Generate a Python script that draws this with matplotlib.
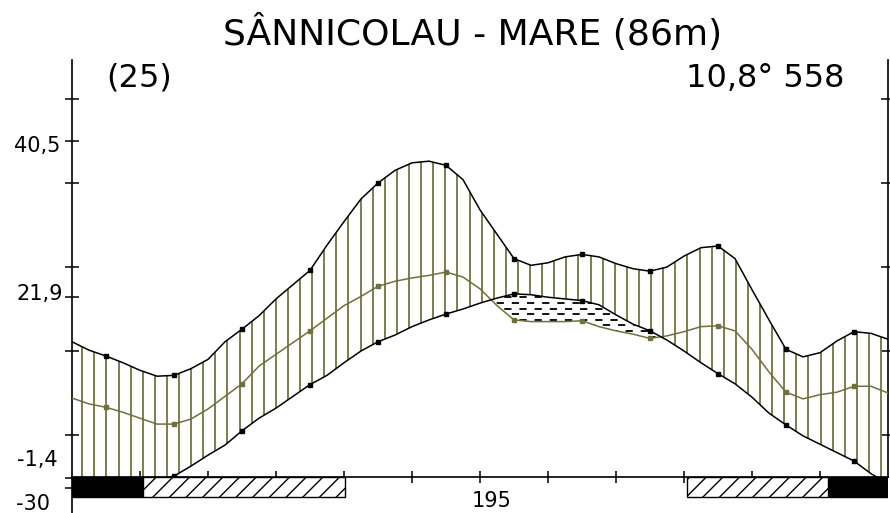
import numpy as np
import matplotlib.pyplot as plt
from matplotlib.patches import Rectangle

# Station info
station = 'SÂNNICOLAU - MARE (86m)'
years_label = '(25)'
mean_temp_label = '10,8°'
annual_precip_label = '558'
frost_free_days = '195'
extreme_labels = ['40,5', '21,9', '-1,4', '-30']

# Curves sampled every quarter month (0 = 1 Jan, 12 = 31 Dec), diagram units
month_pos = np.linspace(0, 12, 49)
precip_upper = [16.1, 15.1, 14.4, 13.6, 12.7, 12.0, 12.1, 12.9, 14.0, 16.1,
                17.6, 19.2, 21.2, 22.9, 24.6, 27.6, 30.4, 33.1, 35.0, 36.5,
                37.4, 37.6, 37.1, 35.4, 31.8, 28.9, 26.0, 25.2, 25.5, 26.2,
                26.5, 26.2, 25.4, 24.8, 24.5, 25.0, 26.3, 27.3, 27.5, 26.0,
                22.3, 18.7, 15.2, 14.3, 14.8, 16.2, 17.3, 17.1, 16.4]
precip_lower = [9.4, 8.7, 8.3, 7.7, 7.0, 6.3, 6.3, 6.9, 8.1, 9.6,
                11.1, 13.2, 14.6, 16.0, 17.4, 18.9, 20.4, 21.5, 22.7, 23.3,
                23.7, 24.0, 24.4, 23.8, 22.4, 20.4, 18.7, 18.5, 18.5, 18.5,
                18.6, 17.9, 17.4, 17.0, 16.5, 16.8, 17.3, 17.9, 18.0, 17.4,
                15.2, 12.5, 10.1, 9.3, 9.8, 10.1, 10.8, 10.8, 10.0]
temperature = [-2.1, -2.0, -1.9, -1.5, -1.1, -0.5, 0.1, 1.3, 2.6, 3.8,
               5.5, 7.0, 8.2, 9.6, 11.0, 12.1, 13.6, 15.0, 16.1, 16.9,
               17.9, 18.7, 19.4, 20.0, 20.7, 21.3, 21.8, 21.7, 21.4, 21.2,
               21.0, 20.5, 19.3, 18.2, 17.4, 16.3, 15.0, 13.6, 12.3, 11.1,
               9.5, 7.6, 6.2, 4.9, 3.9, 2.9, 1.9, 0.4, -0.8]

# frost bars below the plot (start month, end month)
sure_frost = [(0, 1.04), (11.12, 12)]
probable_frost = [(1.04, 4.01), (9.04, 11.12)]

upper = np.array(precip_upper)
olive_line = np.array(precip_lower)
temp = np.array(temperature)

olive = '#70703c'
px = 8.4          # pixels per diagram unit
top = 49.64       # top of the axis lines
ybot = -36 / px   # bottom of the picture

fig = plt.figure(figsize=(8.9, 5.13), dpi=100)
ax = fig.add_axes([72 / 890, 0, 816 / 890, 1])
ax.set_xlim(0, 12)
ax.set_ylim(ybot, 477 / px)
ax.patch.set_visible(False)

clip = Rectangle((0, 0), 12, top, transform=ax.transData)

# humid area: vertical olive lines between the two black curves
humid = ax.fill_between(month_pos, temp, upper, facecolor='none', edgecolor='none')
hatch_x = 0.15 + 0.178 * np.arange(67)
vl = ax.vlines(hatch_x, 0, top, colors='#78784a', lw=1.35, zorder=2)
vl.set_clip_path(humid.get_paths()[0], ax.transData)

# dry area: dashed rows between temperature and the olive curve
dry = ax.fill_between(month_pos, olive_line, temp, where=olive_line < temp,
                      interpolate=True, facecolor='none', edgecolor='none')
rows = np.arange(10, 30, 0.67)
for k, off in enumerate([0, 4.2]):
    hl = ax.hlines(rows[k::2], 0, 12, colors='black', lw=1.3,
                   linestyles=[(off, (4, 4.4))], zorder=2)
    for p in dry.get_paths():
        hl.set_clip_path(p, ax.transData)

for y, c, z in [(olive_line, olive, 3), (upper, 'black', 4), (temp, 'black', 4)]:
    ln, = ax.plot(month_pos, y, color=c, lw=1.1, marker='s', ms=3.2,
                  markevery=slice(2, None, 4), zorder=z)
    ln.set_clip_path(clip)

# frost strip
sh = 20 / px
for a, b in sure_frost:
    ax.add_patch(Rectangle((a, -sh), b - a, sh, facecolor='black',
                           edgecolor='black', lw=1, zorder=3))
for a, b in probable_frost:
    ax.add_patch(Rectangle((a, -sh), b - a, sh, facecolor='white',
                           edgecolor='black', hatch='//', lw=1, zorder=3))

# axes lines and ticks
ax.spines['top'].set_visible(False)
ax.spines['bottom'].set_position(('data', 0))
ax.spines['bottom'].set_bounds(0, 12)
ax.spines['left'].set_bounds(ybot, top)
ax.spines['right'].set_bounds(0, top)
for s in ['bottom', 'left', 'right']:
    ax.spines[s].set_linewidth(1.2)

ax.set_xticks(np.arange(1, 12))
ax.tick_params(axis='x', direction='inout', length=8, width=1.1, labelbottom=False)
ax.set_yticks(np.arange(5, 50, 10))
ax.set_yticks([40.0, 21.4, -0.1, -1.3], minor=True)
ax.tick_params(axis='y', which='both', direction='inout', length=10, width=1.1,
               left=True, right=True, labelleft=False)
ax.tick_params(axis='y', which='minor', right=False)

# texts
fig.text(473 / 890, 1 - 45 / 513, station, ha='center', va='baseline', fontsize=26)
fig.text(106 / 890, 1 - 87 / 513, years_label, ha='left', va='baseline', fontsize=23)
fig.text(845 / 890, 1 - 87 / 513, mean_temp_label + ' ' + annual_precip_label,
         ha='right', va='baseline', fontsize=23)
for lab, (xr, yb) in zip(extreme_labels, [(60, 152), (63, 300), (58, 466), (50, 510)]):
    fig.text(xr / 890, 1 - yb / 513, lab, ha='right', va='baseline', fontsize=15)
fig.text(492 / 890, 1 - 507 / 513, frost_free_days, ha='center', va='baseline', fontsize=15)

fig.savefig('out.png', dpi=100)
